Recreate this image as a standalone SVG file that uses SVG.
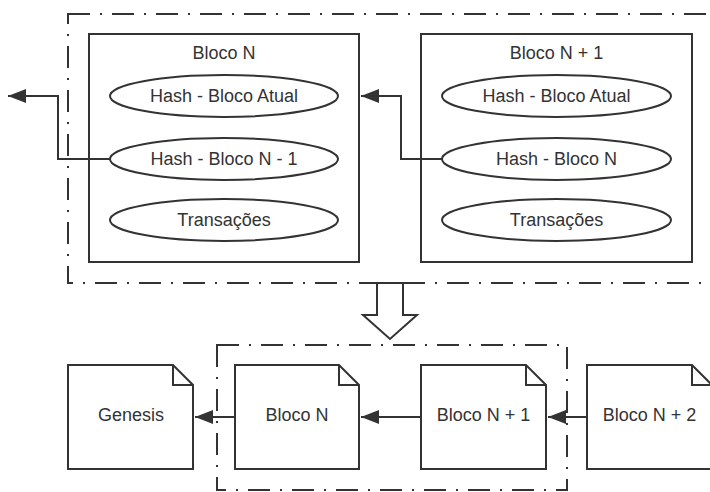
<svg xmlns="http://www.w3.org/2000/svg" width="710" height="492" viewBox="0 0 710 492">
<style>
.box{fill:#ffffff;stroke:#333333;stroke-width:2}
.cont{fill:none;stroke:#333333;stroke-width:2;stroke-dasharray:22 10 2 10}
.line{fill:none;stroke:#333333;stroke-width:2}
text{font-family:"Liberation Sans",Arial,sans-serif;font-size:18px;fill:#333333;text-anchor:middle}
</style>
<defs>
<marker id="ah" markerUnits="userSpaceOnUse" markerWidth="20" markerHeight="14" refX="18" refY="7" orient="auto">
<path d="M0,0 L18,7 L0,14 Z" fill="#333333"/>
</marker>
</defs>
<rect width="710" height="492" fill="#ffffff"/>
<g id="top-container"><rect class="cont" x="68" y="14" width="660" height="269"/></g>
<g id="bottom-container"><rect class="cont" x="217" y="345" width="350" height="145"/></g>
<g id="bloco-n">
<rect class="box" x="89" y="34" width="270" height="228"/>
<text x="224" y="59">Bloco N</text>
<ellipse class="box" cx="224" cy="96" rx="114" ry="21"/>
<text x="224" y="102">Hash - Bloco Atual</text>
<ellipse class="box" cx="224" cy="159" rx="114" ry="21"/>
<text x="224" y="165">Hash - Bloco N - 1</text>
<ellipse class="box" cx="224" cy="220" rx="114" ry="21"/>
<text x="224" y="226">Transações</text>
</g>
<g id="bloco-n1">
<rect class="box" x="421" y="34" width="271" height="228"/>
<text x="556.5" y="59">Bloco N + 1</text>
<ellipse class="box" cx="556.5" cy="96" rx="114.5" ry="21"/>
<text x="556.5" y="102">Hash - Bloco Atual</text>
<ellipse class="box" cx="556.5" cy="159" rx="114.5" ry="21"/>
<text x="556.5" y="165">Hash - Bloco N</text>
<ellipse class="box" cx="556.5" cy="220" rx="114.5" ry="21"/>
<text x="556.5" y="226">Transações</text>
</g>
<g id="doc-genesis">
<path class="box" d="M68,365 H173 L193,385 V469 H68 Z"/>
<path class="line" d="M173,365 V385 H193"/>
<text x="131" y="421">Genesis</text>
</g>
<g id="doc-bloco-n">
<path class="box" d="M235,365 H339 L359,385 V469 H235 Z"/>
<path class="line" d="M339,365 V385 H359"/>
<text x="297" y="421">Bloco N</text>
</g>
<g id="doc-bloco-n1">
<path class="box" d="M421,365 H526 L546,385 V469 H421 Z"/>
<path class="line" d="M526,365 V385 H546"/>
<text x="483.5" y="421">Bloco N + 1</text>
</g>
<g id="doc-bloco-n2">
<path class="box" d="M587,365 H692 L712,385 V469 H587 Z"/>
<path class="line" d="M692,365 V385 H712"/>
<text x="649.5" y="421">Bloco N + 2</text>
</g>
<g id="connectors">
<path class="line" d="M110,159 H58 V96 H8" marker-end="url(#ah)"/>
<path class="line" d="M442,159 H401 V96 H361" marker-end="url(#ah)"/>
<path class="line" d="M235,417 H195" marker-end="url(#ah)"/>
<path class="line" d="M421,417 H361" marker-end="url(#ah)"/>
<path class="line" d="M587,417 H548" marker-end="url(#ah)"/>
<path class="box" d="M377,283 H403 V315 H417 L390,339 L363,315 H377 Z"/>
</g>
</svg>
